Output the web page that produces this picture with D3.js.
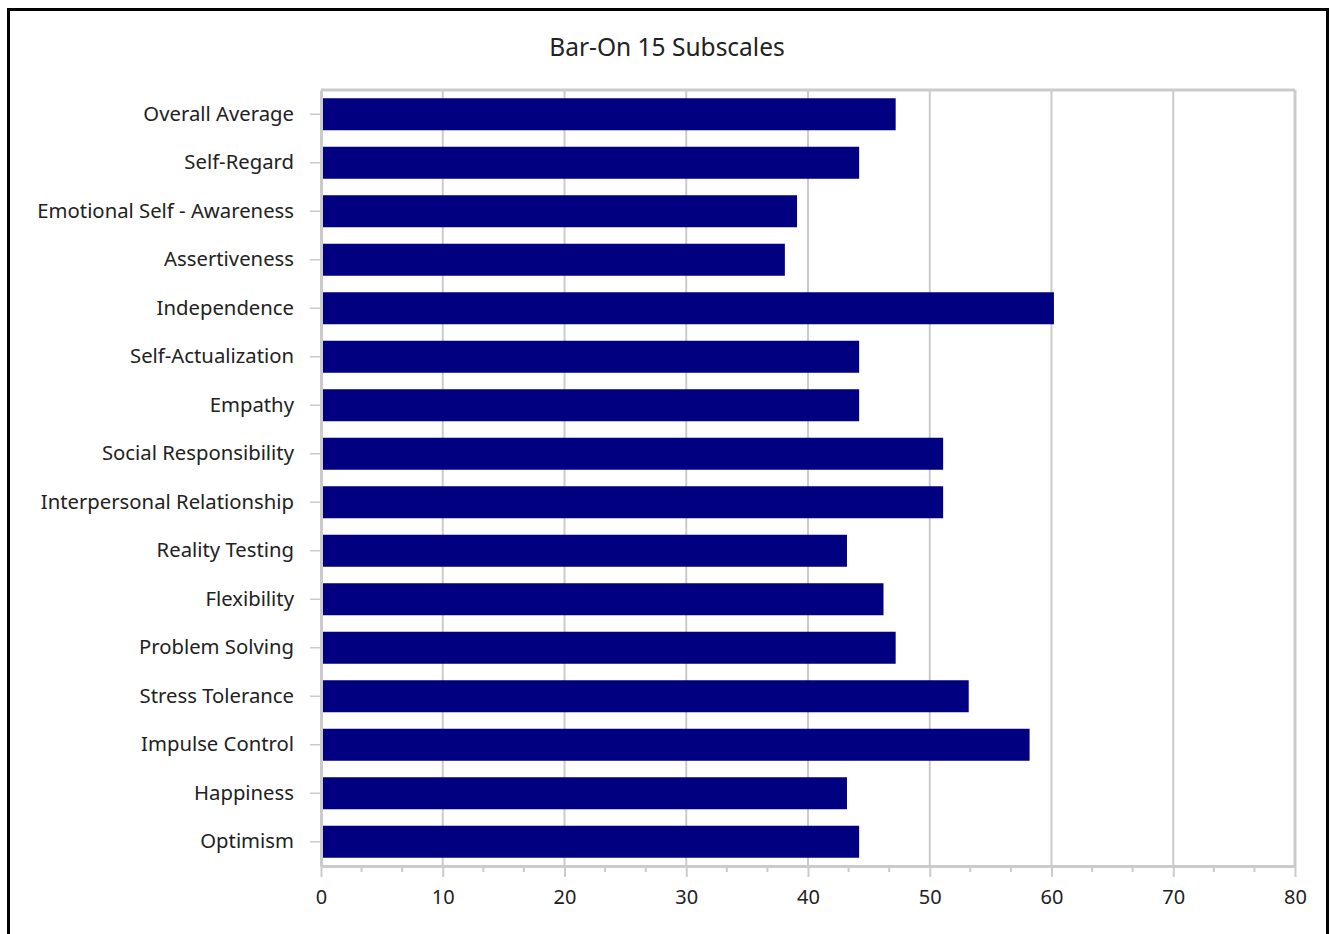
<!DOCTYPE html>
<html>
<head>
<meta charset="utf-8">
<script src="https://cdn.jsdelivr.net/npm/d3@7"></script>
<style>
  body { margin: 0; background: #fff; }
  text { font-family: "Noto Sans", "DejaVu Sans", sans-serif; fill: #222; }
</style>
</head>
<body>
<div id="chart"></div>
<script>
// data
var categories = ["Overall Average", "Self-Regard", "Emotional Self - Awareness", "Assertiveness",
  "Independence", "Self-Actualization", "Empathy", "Social Responsibility",
  "Interpersonal Relationship", "Reality Testing", "Flexibility", "Problem Solving",
  "Stress Tolerance", "Impulse Control", "Happiness", "Optimism"];
var scores = [47.2, 44.2, 39.1, 38.1, 60.2, 44.2, 44.2, 51.1, 51.1, 43.2, 46.2, 47.2, 53.2, 58.2, 43.2, 44.2];
var xTicks = [0, 10, 20, 30, 40, 50, 60, 70, 80];
var title = "Bar-On 15 Subscales";

var W = 1331, H = 934;
var margin = {top: 90, right: 36, bottom: 68, left: 321}
  , width = W - margin.left - margin.right
  , height = H - margin.top - margin.bottom;

var svg = d3.select("#chart").append("svg")
  .attr("width", W)
  .attr("height", H);

// outer frame
svg.append("rect")
  .attr("x", 8.5).attr("y", 9.5)
  .attr("width", 1319).attr("height", 940)
  .attr("fill", "none").attr("stroke", "#000").attr("stroke-width", 3);

svg.append("text")
  .attr("x", 667).attr("y", 56)
  .attr("text-anchor", "middle")
  .style("font-size", "24.5px")
  .text(title);

var g = svg.append("g")
  .attr("transform", "translate(" + margin.left + "," + margin.top + ")");

var xScale = d3.scaleLinear().domain([0, 80]).range([0, width]);
var yScale = d3.scaleBand().domain(categories).range([0, height]).paddingInner(0.34).paddingOuter(0.17);

// gridlines
g.selectAll(".grid")
  .data(xTicks.slice(1))
  .enter().append("line")
  .attr("x1", function(d) { return xScale(d); })
  .attr("x2", function(d) { return xScale(d); })
  .attr("y1", 0).attr("y2", height)
  .attr("stroke", "#cbcbcb").attr("stroke-width", 2);

// top and right frame lines
g.append("line")
  .attr("x1", 0).attr("x2", width).attr("y1", 0).attr("y2", 0)
  .attr("stroke", "#cbcbcb").attr("stroke-width", 3);
g.append("line")
  .attr("x1", width).attr("x2", width).attr("y1", 0).attr("y2", height)
  .attr("stroke", "#cbcbcb").attr("stroke-width", 3);

// bars
g.selectAll(".bar")
  .data(scores)
  .enter().append("rect")
  .attr("class", "bar")
  .attr("x", xScale(0) + 1)
  .attr("y", function(d, i) { return yScale(categories[i]); })
  .attr("width", function(d) { return xScale(d) - xScale(0) - 1; })
  .attr("height", yScale.bandwidth())
  .attr("fill", "#000080");

// minor ticks on x
var minor = [];
xTicks.slice(0, -1).forEach(function(t) { minor.push(t + 10 / 3, t + 20 / 3); });
g.selectAll(".minor")
  .data(minor)
  .enter().append("line")
  .attr("x1", function(d) { return xScale(d); })
  .attr("x2", function(d) { return xScale(d); })
  .attr("y1", height).attr("y2", height + 6)
  .attr("stroke", "#cbcbcb").attr("stroke-width", 2);

// x axis
var xAxis = g.append("g")
  .attr("transform", "translate(0," + height + ")")
  .call(d3.axisBottom(xScale).tickValues(xTicks).tickSize(11).tickPadding(13).tickSizeOuter(0));
xAxis.select(".domain").attr("stroke", "#cbcbcb").attr("stroke-width", 3);
xAxis.selectAll(".tick line").attr("stroke", "#cbcbcb").attr("stroke-width", 2);
xAxis.selectAll("text").style("font-size", "20px").attr("fill", "#222")
  .style("font-family", "'Noto Sans', 'DejaVu Sans', sans-serif");

// y axis
var yAxis = g.append("g")
  .call(d3.axisLeft(yScale).tickSize(11).tickPadding(16).tickSizeOuter(0));
yAxis.select(".domain").attr("stroke", "#cbcbcb").attr("stroke-width", 3);
yAxis.selectAll(".tick line").attr("stroke", "#cbcbcb").attr("stroke-width", 1.5);
yAxis.selectAll("text").style("font-size", "20.3px").attr("fill", "#222")
  .style("font-family", "'Noto Sans', 'DejaVu Sans', sans-serif");
</script>
</body>
</html>
